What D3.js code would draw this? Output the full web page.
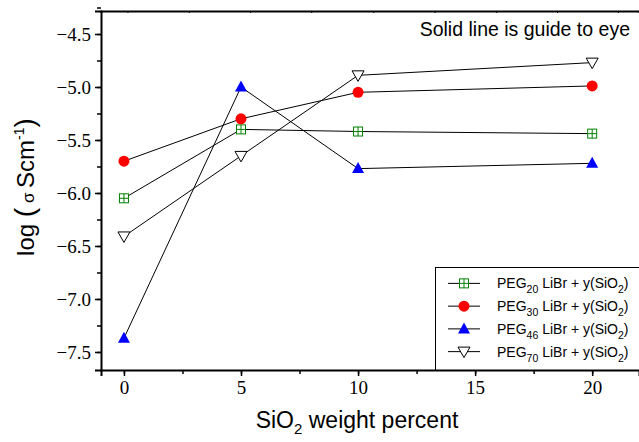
<!DOCTYPE html>
<html>
<head>
<meta charset="utf-8">
<script src="https://cdn.jsdelivr.net/npm/d3@7"></script>
<style>
  body { margin: 0; background: #fff; }
  svg { display: block; }
  svg .tick text { font-family: "Liberation Serif", "DejaVu Serif", serif !important; }
</style>
</head>
<body>
<div id="chart"></div>
<script>
// 数据
const xValues = [0, 5, 10, 20];
const peg20 = [-6.05, -5.40, -5.42, -5.44];
const peg30 = [-5.70, -5.30, -5.05, -4.99];
const peg46 = [-7.37, -5.00, -5.77, -5.72];
const peg70 = [-6.41, -5.65, -4.89, -4.77];
const seriesNames = ['20', '30', '46', '70'];
const xTickValues = [0, 5, 10, 15, 20];
const yTickValues = [-7.5, -7.0, -6.5, -6.0, -5.5, -5.0, -4.5];
const topTickValues = [0.15, 2.77, 5.39, 8.0, 10.65, 13.27, 15.9, 18.5, 21.1];

const width = 639, height = 442;
const margin = { left: 101, right: 0, top: 11, bottom: 72 };
const serif = '"Liberation Serif", "DejaVu Serif", serif';
const sans = '"Liberation Sans", Arial, sans-serif';

const svg = d3.select('#chart').append('svg')
    .attr('width', width)
    .attr('height', height);

const x = d3.scaleLinear().domain([-0.98, 22]).range([margin.left, width - margin.right]);
const y = d3.scaleLinear().domain([-7.67, -4.283]).range([height - margin.bottom, margin.top]);

// 坐标轴
const fmt = d => d.toFixed(1).replace('-', '\u2212');

const xMinor = d3.range(0, 22, 2.5);
svg.append('g')
    .attr('transform', `translate(0,${y.range()[0]})`)
    .call(d3.axisBottom(x).tickValues(xMinor).tickSize(4).tickFormat(''))
    .call(g => g.select('.domain').remove())
    .call(g => g.selectAll('line').attr('stroke-width', 1.5));

svg.append('g')
    .attr('transform', `translate(0,${y.range()[0]})`)
    .call(d3.axisBottom(x).tickValues(xTickValues).tickSize(6).tickPadding(5).tickFormat(d3.format('d')))
    .attr('font-family', serif)
    .attr('font-size', 19)
    .call(g => g.select('.domain').attr('stroke-width', 2))
    .call(g => g.selectAll('line').attr('stroke-width', 1.5))
    .call(g => g.selectAll('text').attr('fill', '#000'));

const yMinor = d3.range(-7.5, -4.2, 0.25);
svg.append('g')
    .attr('transform', `translate(${x.range()[0]},0)`)
    .call(d3.axisLeft(y).tickValues(yMinor).tickSize(4).tickFormat(''))
    .call(g => g.select('.domain').remove())
    .call(g => g.selectAll('line').attr('stroke-width', 1.5));

svg.append('g')
    .attr('transform', `translate(${x.range()[0]},0)`)
    .call(d3.axisLeft(y).tickValues(yTickValues).tickSize(6).tickPadding(4).tickFormat(fmt))
    .attr('font-family', serif)
    .attr('font-size', 19)
    .call(g => g.select('.domain').attr('stroke-width', 2))
    .call(g => g.selectAll('line').attr('stroke-width', 1.5))
    .call(g => g.selectAll('text').attr('fill', '#000'));

// 顶部边框
svg.append('g')
    .attr('transform', `translate(0,${y.range()[1]})`)
    .call(d3.axisBottom(x).tickValues(topTickValues).tickSize(2).tickFormat(''))
    .call(g => g.select('.domain').attr('stroke-width', 2))
    .call(g => g.selectAll('line').attr('stroke-width', 1));

// 轴标题
const xt = svg.append('text')
    .attr('x', 357).attr('y', 428)
    .attr('text-anchor', 'middle')
    .attr('font-family', sans).attr('font-size', 23);
xt.append('tspan').text('SiO');
xt.append('tspan').attr('font-size', 15).attr('dy', 6).text('2');
xt.append('tspan').attr('dy', -6).text(' weight percent');

const yt = svg.append('text')
    .attr('transform', 'translate(34,187) rotate(-90)')
    .attr('text-anchor', 'middle')
    .attr('font-family', sans).attr('font-size', 24);
yt.append('tspan').text('log ');
yt.append('tspan').attr('font-size', 28).text('(');
yt.append('tspan').attr('font-size', 17).text(' \u03c3 ');
yt.append('tspan').text('Scm');
yt.append('tspan').attr('font-size', 14).attr('dy', -10).text('-1');
yt.append('tspan').attr('font-size', 28).attr('dy', 10).text(')');

svg.append('text')
    .attr('x', 630).attr('y', 36)
    .attr('text-anchor', 'end')
    .attr('font-family', sans).attr('font-size', 19.5)
    .text('Solid line is guide to eye');

// 系列
const series = [
    { values: peg20, type: 'square' },
    { values: peg30, type: 'circle' },
    { values: peg46, type: 'up' },
    { values: peg70, type: 'down' }
];

const line = d3.line().x(d => x(d[0])).y(d => y(d[1]));

function drawMarker(g, type) {
    if (type === 'square') {
        g.append('rect').attr('x', -4.5).attr('y', -4.5).attr('width', 9).attr('height', 9)
            .attr('fill', '#fff').attr('stroke', '#008000').attr('stroke-width', 1);
        g.append('path').attr('d', 'M0,-4.5V4.5M-4.5,0H4.5')
            .attr('stroke', '#008000').attr('stroke-width', 1);
    } else if (type === 'circle') {
        g.append('circle').attr('r', 5.5).attr('fill', '#ff0000');
    } else if (type === 'up') {
        g.append('path').attr('d', 'M0,-6.5L6,4.5L-6,4.5Z').attr('fill', '#0000ff');
    } else {
        g.append('path').attr('d', 'M-6,-4.5L6,-4.5L0,6Z')
            .attr('fill', '#fff').attr('stroke', '#000').attr('stroke-width', 1);
    }
}

series.forEach(s => {
    const pts = xValues.map((v, i) => [v, s.values[i]]);
    svg.append('path')
        .attr('d', line(pts))
        .attr('fill', 'none')
        .attr('stroke', '#000')
        .attr('stroke-width', 1);
});
series.forEach(s => {
    xValues.forEach((v, i) => {
        const g = svg.append('g').attr('transform', `translate(${x(v)},${y(s.values[i])})`);
        drawMarker(g, s.type);
    });
});

// 图例
svg.append('rect')
    .attr('x', 435.5).attr('y', 267.5)
    .attr('width', 210).attr('height', y.range()[0] - 267.5)
    .attr('fill', '#fff').attr('stroke', '#000').attr('stroke-width', 1);

const legendY = d3.scaleBand().domain(seriesNames).range([272, 363]);
series.forEach((s, i) => {
    const cy = legendY(seriesNames[i]) + legendY.bandwidth() / 2;
    svg.append('line').attr('x1', 448).attr('x2', 480).attr('y1', cy).attr('y2', cy)
        .attr('stroke', '#000').attr('stroke-width', 1);
    const g = svg.append('g').attr('transform', `translate(464,${cy})`);
    drawMarker(g, s.type);
    const t = svg.append('text').attr('x', 497).attr('y', cy + 5)
        .attr('font-family', sans).attr('font-size', 14);
    t.append('tspan').text('PEG');
    t.append('tspan').attr('font-size', 10.5).attr('dy', 5).text(seriesNames[i]);
    t.append('tspan').attr('dy', -5).text(' LiBr + y(SiO');
    t.append('tspan').attr('font-size', 10.5).attr('dy', 5).text('2');
    t.append('tspan').attr('dy', -5).text(')');
});
</script>
</body>
</html>
